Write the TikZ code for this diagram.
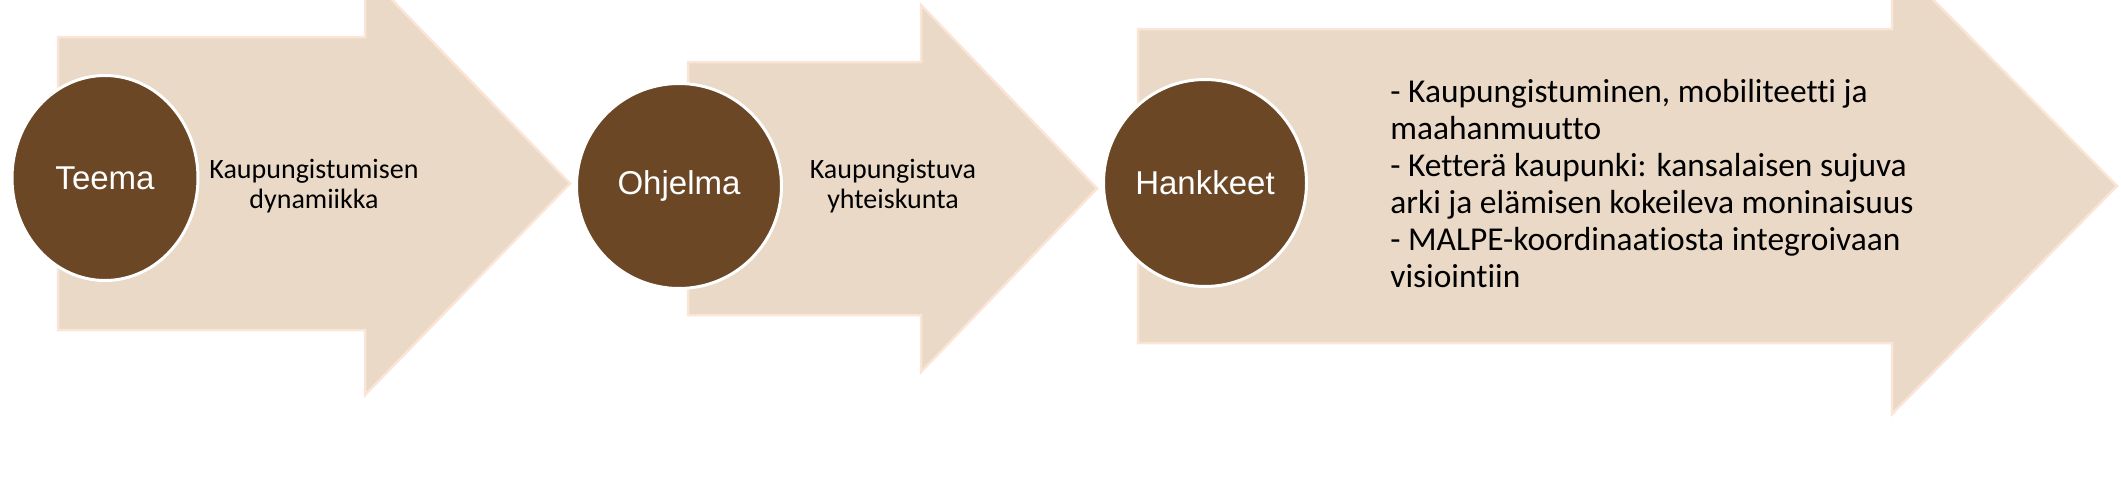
\documentclass[tikz,border=0pt]{standalone}
\usepackage{fontspec}
\setmainfont{Carlito}[Ligatures={NoCommon}]
\newfontfamily\arialfont{Liberation Sans}
\usetikzlibrary{shapes.geometric}
\definecolor{colfreccia}{RGB}{233,217,198}
\definecolor{colbordo}{RGB}{250,229,214}
\definecolor{colmarrone}{RGB}{107,71,38}
\tikzset{
  freccia/.style={fill=colfreccia, draw=colbordo, line width=1.25pt},
  cerchio/.style={ellipse, fill=colmarrone, draw=white, line width=1.5pt, inner sep=0pt,
    text=white, font=\arialfont\fontsize{16.5}{19}\selectfont},
  testo/.style={align=center, inner sep=0pt, font=\fontsize{14}{15}\selectfont},
  elenco/.style={align=left, inner sep=0pt, font=\fontsize{16.7}{18.5}\selectfont}
}
\begin{document}
\begin{tikzpicture}[x=0.5pt, y=-0.5pt]
    \useasboundingbox (0,0) rectangle (2121,477);

     % Frecce
    \filldraw[freccia] (58,37) -- (365,37) -- (365,-28) -- (570,183.5) -- (365,395) -- (365,330) -- (58,330) -- cycle;
    \filldraw[freccia] (688,62) -- (921,62) -- (921,5) -- (1097,188.5) -- (921,372) -- (921,315) -- (688,315) -- cycle;
    \filldraw[freccia] (1138,29) -- (1892,29) -- (1892,-42) -- (2117,186) -- (1892,414) -- (1892,343) -- (1138,343) -- cycle;

     % Cerchi
    \node[cerchio, minimum width=93pt, minimum height=102.5pt] (teema) at (105,178) {Teema};
    \node[cerchio, minimum width=102.5pt, minimum height=102.5pt] (ohjelma) at (679,186) {Ohjelma};
    \node[cerchio, minimum width=101.5pt, minimum height=103.5pt] (hankkeet) at (1205,183) {Hankkeet};

     % Testi
    \node[testo] (dynamiikka) at (314,186) {Kaupungistumisen\\dynamiikka};
    \node[testo] (yhteiskunta) at (893,186) {Kaupungistuva\\yhteiskunta};
    \node[elenco, anchor=north west] (hankelista) at (1390,79) {- Kaupungistuminen, mobiliteetti ja\\maahanmuutto\\- Ketterä kaupunki: kansalaisen sujuva\\arki ja elämisen kokeileva moninaisuus\\- MALPE-koordinaatiosta integroivaan\\visiointiin};
\end{tikzpicture}
\end{document}
